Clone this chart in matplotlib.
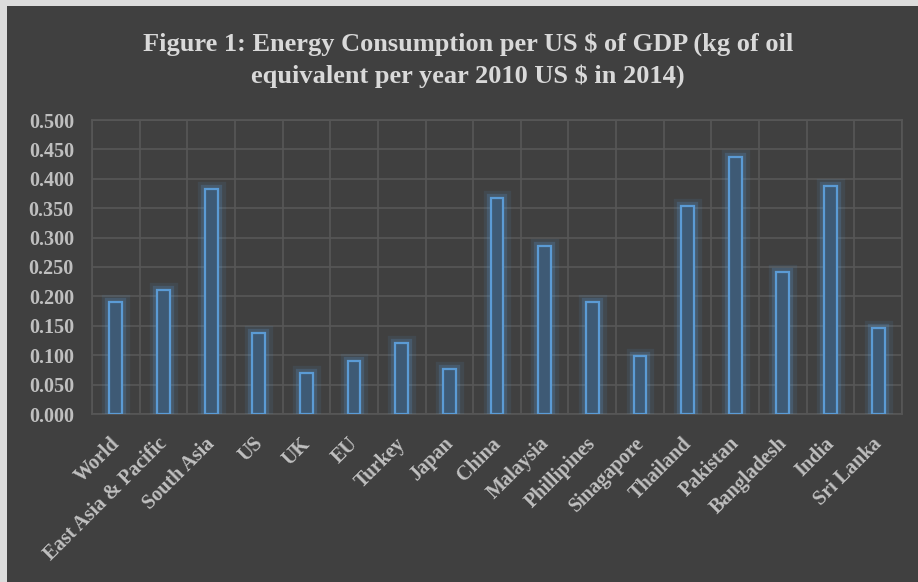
import matplotlib
matplotlib.use("Agg")
import matplotlib.pyplot as plt
import matplotlib.patheffects as pe
from matplotlib.patches import Rectangle
from matplotlib.transforms import ScaledTranslation
import numpy as np

countries = ["World", "East Asia & Pacific", "South Asia", "US", "UK", "EU",
             "Turkey", "Japan", "China", "Malaysia", "Phillipines", "Sinagapore",
             "Thailand", "Pakistan", "Bangladesh", "India", "Sri Lanka"]
values = [0.191, 0.211, 0.383, 0.138, 0.069, 0.090,
          0.120, 0.076, 0.367, 0.286, 0.191, 0.099,
          0.353, 0.437, 0.241, 0.388, 0.147]
yticks = [0.0, 0.05, 0.1, 0.15, 0.2, 0.25, 0.3, 0.35, 0.4, 0.45, 0.5]

bg = "#404040"
grid_col = "#575757"
text_col = "#d9d9d9"
tick_col = "#bfbfbf"
edge_col = "#5b9bd5"

plt.rcParams["font.family"] = ["Liberation Serif", "DejaVu Serif"]

fig = plt.figure(figsize=(9.18, 5.82), dpi=100)
fig.patch.set_facecolor("#dcdcdc")
fig.patches.append(Rectangle((7 / 918, 0), 1, 1 - 6 / 582, transform=fig.transFigure,
                             facecolor=bg, edgecolor="none", zorder=-5))

ax = fig.add_axes([92 / 918, 1 - 414 / 582, 810 / 918, 294 / 582])
ax.set_facecolor(bg)

x = np.arange(len(countries))
bars = ax.bar(x, values, width=0.27, facecolor="#3e5a75", edgecolor=edge_col,
              linewidth=1.6, zorder=3)
for b in bars:
    b.set_path_effects([
        pe.Stroke(linewidth=11, foreground=edge_col, alpha=0.10),
        pe.Stroke(linewidth=6, foreground=edge_col, alpha=0.22),
        pe.Normal(),
    ])

ax.set_xlim(-0.5, len(countries) - 0.5)
ax.set_ylim(0, 0.5)
ax.set_yticks(yticks)
ax.set_yticklabels([f"{v:.3f}" for v in yticks], fontsize=14.5, fontweight="bold",
                   color=tick_col)
ax.set_xticks(x)
ax.set_xticklabels(countries, rotation=45, ha="right", va="top", rotation_mode="anchor",
                   fontsize=14.5, fontweight="bold", color=tick_col)
ax.set_xticks(np.arange(len(countries) + 1) - 0.5, minor=True)
ax.tick_params(axis="both", which="both", length=0)
ax.tick_params(axis="y", pad=13)
ax.tick_params(axis="x", pad=12)
# nudge the rotated labels a little left/down to line up with the bars
shift = ScaledTranslation(-6 / 100, -3 / 100, fig.dpi_scale_trans)
for lab in ax.get_xticklabels():
    lab.set_transform(lab.get_transform() + shift)
ax.grid(axis="y", which="major", color=grid_col, linewidth=1.2, zorder=0)
ax.grid(axis="x", which="minor", color=grid_col, linewidth=1.2, zorder=0)
ax.set_axisbelow(True)
for s in ax.spines.values():
    s.set_color(grid_col)
    s.set_linewidth(1.2)

fig.text(0.51, 1 - 60 / 582,
         "Figure 1: Energy Consumption per US $ of GDP (kg of oil\nequivalent per year 2010 US $ in 2014)",
         ha="center", va="center", fontsize=19, fontweight="bold", color=text_col,
         linespacing=1.4)

fig.savefig("out.png", dpi=100, facecolor=fig.get_facecolor())
